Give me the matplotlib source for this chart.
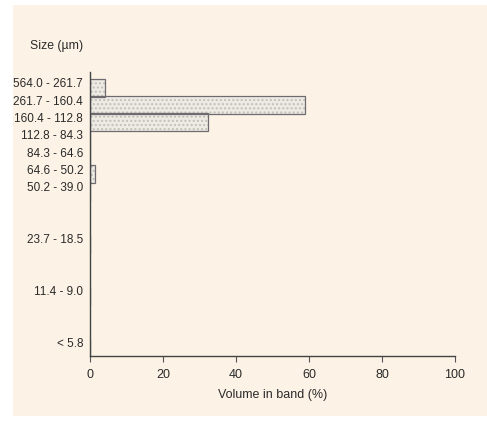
import matplotlib
matplotlib.use("Agg")
import matplotlib.pyplot as plt
from matplotlib.patches import Rectangle

# size bands (um), only the labelled ones; band_index = slot in the full band list
band_labels = ["564.0 - 261.7", "261.7 - 160.4", "160.4 - 112.8", "112.8 - 84.3",
               "84.3 - 64.6", "64.6 - 50.2", "50.2 - 39.0", "23.7 - 18.5",
               "11.4 - 9.0", "< 5.8"]
band_index = [0, 1, 2, 3, 4, 5, 6, 9, 12, 15]

# volume in band (%)
volume = [4.1, 58.9, 32.3, 0, 0, 1.5, 0, 0, 0, 0]

x_ticks = [0, 20, 40, 60, 80, 100]

plt.rcParams['font.family'] = ['Liberation Sans', 'DejaVu Sans']

bg = "#fcf3e6"
fig = plt.figure(figsize=(4.87, 4.21), dpi=100)
fig.patch.set_facecolor("white")
fig.patches.append(Rectangle((13 / 487, 1 - 416 / 421), 1 - 13 / 487, (416 - 5) / 421,
                             transform=fig.transFigure, facecolor=bg, edgecolor="none", zorder=-1))

ax = fig.add_axes([90 / 487, 1 - 356 / 421, (455 - 90) / 487, (356 - 72) / 421])
ax.set_facecolor("none")

pos = [i + 0.28 for i in band_index]
ax.barh(pos, volume, height=1.04, color="#eeeae4", edgecolor="#c4bfb9",
        hatch="....", linewidth=0)
ax.barh(pos, volume, height=1.04, color="none", edgecolor="#6e6a70", linewidth=0.9)

ax.set_ylim(15.75, -0.63)
ax.set_xlim(0, 100)
ax.set_yticks(band_index)
ax.set_yticklabels(band_labels)
ax.set_xticks(x_ticks)
ax.tick_params(axis="y", length=0, pad=5, labelsize=8.5, colors="#2a2a2a")
ax.tick_params(axis="x", length=4, width=0.8, pad=5, labelsize=9, colors="#2a2a2a",
               color="#555555")

for s in ["top", "right"]:
    ax.spines[s].set_visible(False)
for s in ["left", "bottom"]:
    ax.spines[s].set_color("#444444")
    ax.spines[s].set_linewidth(1.0)

ax.set_xlabel("Volume in band (%)", fontsize=9, color="#2a2a2a", labelpad=6)
fig.text(30 / 487, 1 - 46 / 421, "Size (\u00b5m)", fontsize=8.8, color="#2a2a2a",
         ha="left", va="center")

fig.savefig("out.png", dpi=100, facecolor=fig.get_facecolor())
